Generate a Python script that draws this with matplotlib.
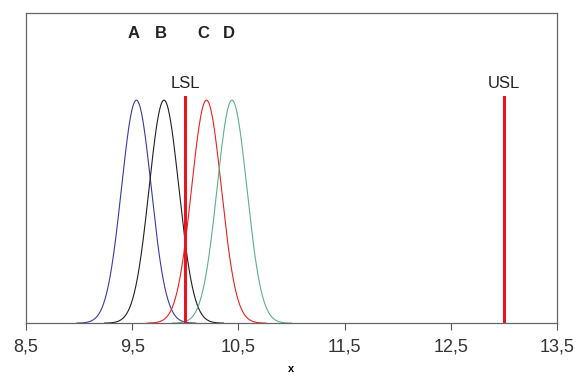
import numpy as np
import matplotlib
matplotlib.use("Agg")
import matplotlib.pyplot as plt

plt.rcParams["font.family"] = ["Liberation Sans", "DejaVu Sans"]

# process distributions
names = ["A", "B", "C", "D"]
means = [9.54, 9.80, 10.20, 10.44]
sigmas = [0.14, 0.14, 0.14, 0.14]
colors = ["#3a3aa8", "#202020", "#ee2020", "#5fae90"]

lsl = 10.0
usl = 13.0
xticks = [8.5, 9.5, 10.5, 11.5, 12.5, 13.5]
xticklabels = ["8,5", "9,5", "10,5", "11,5", "12,5", "13,5"]


def main():
    fig = plt.figure(figsize=(5.76, 3.82), dpi=100)
    ax = fig.add_axes([0.045, 0.154, 0.922, 0.812])

    peak = 1 / (sigmas[0] * np.sqrt(2 * np.pi))
    ytop = peak / 0.719

    for name, m, s, c in zip(names, means, sigmas, colors):
        x = np.linspace(m - 4 * s, m + 4 * s, 300)
        y = np.exp(-0.5 * ((x - m) / s) ** 2) / (s * np.sqrt(2 * np.pi))
        ax.plot(x, y, color=c, lw=0.8)
        ax.text(m - 0.03, ytop * 0.935, name, ha="center", va="center",
                fontsize=12, fontweight="bold", color="#222222")

    for v, lab in [(lsl, "LSL"), (usl, "USL")]:
        ax.plot([v, v], [0, ytop * 0.729], color="#e8141e", lw=2.2)
        ax.text(v, ytop * 0.774, lab, ha="center", va="center",
                fontsize=12, color="#222222")

    ax.set_xlim(8.5, 13.5)
    ax.set_ylim(0, ytop)
    ax.set_xticks(xticks)
    ax.set_xticklabels(xticklabels, fontsize=13, color="#333333")
    ax.set_yticks([])
    ax.tick_params(axis="x", direction="out", length=5, pad=6, color="#555555")
    for sp in ax.spines.values():
        sp.set_color("#666666")
        sp.set_linewidth(0.9)
    ax.set_xlabel("x", fontsize=8, fontweight="bold", labelpad=6)

    fig.savefig("out.png", dpi=100)


if __name__ == "__main__":
    main()
